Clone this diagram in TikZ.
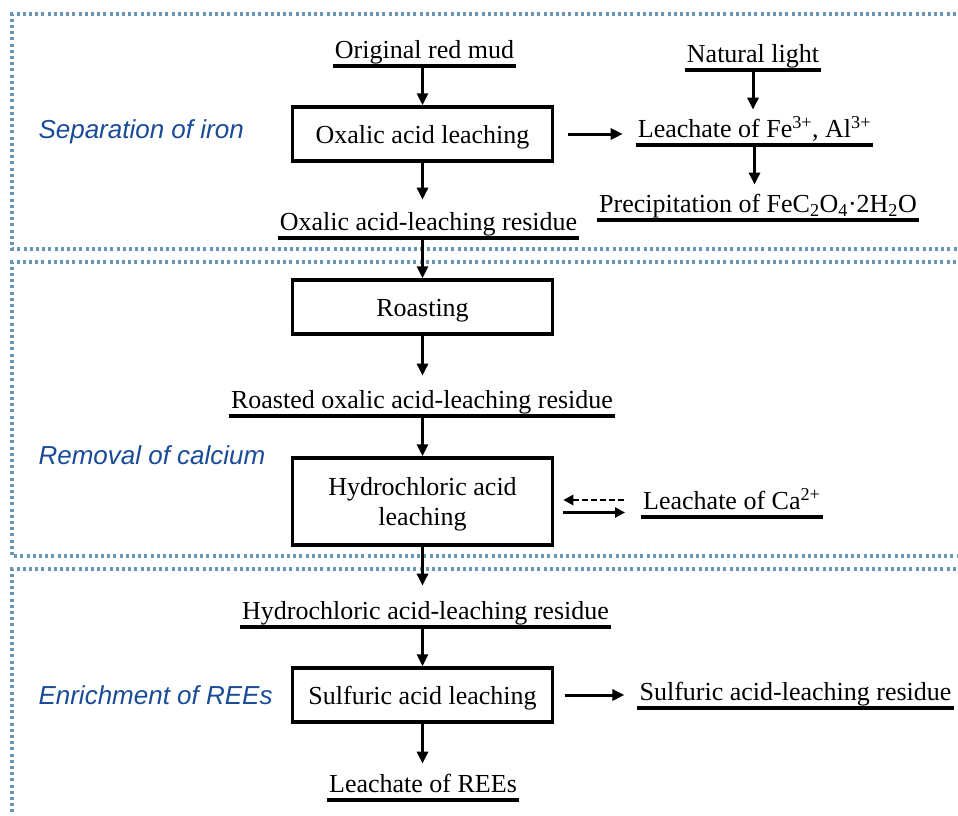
\documentclass[tikz,border=0pt]{standalone}
\usepackage{fontspec}
\setmainfont{Liberation Serif}
\newfontfamily\labfont{Liberation Sans}
\usetikzlibrary{arrows.meta}
\definecolor{framecol}{RGB}{105,150,180}
\definecolor{labcol}{RGB}{25,75,150}
\tikzset{
  frame/.style={draw=framecol, line width=3.2pt, dash pattern=on 3pt off 3.2pt},
  procbox/.style={draw, line width=3.5pt, minimum width=260pt, minimum height=54pt, inner sep=0pt, text height=19pt, text depth=1pt, align=center, font=\fontsize{26}{30}\selectfont},
  boxtext/.style={inner sep=0pt, align=center, font=\fontsize{26}{30}\selectfont},
  ultext/.style={inner xsep=2pt, inner ysep=2pt, text height=18pt, text depth=5pt, font=\fontsize{26}{30}\selectfont},
  ulline/.style={line width=3.2pt},
  arr/.style={line width=3pt, -{Triangle[length=12pt,width=11pt]}},
  thinarr/.style={line width=2.6pt, -{Triangle[length=10pt,width=10pt]}},
  sect/.style={anchor=west, text=labcol, font=\labfont\itshape\fontsize{26}{30}\selectfont},
}
\begin{document}
\begin{tikzpicture}[x=1pt,y=-1pt]
\useasboundingbox (0,0) rectangle (958,815);
% frames
\draw[frame] (962,14) -- (12,14) -- (12,249) -- (962,249);
\draw[frame] (962,262) -- (12,262) -- (12,556) -- (962,556);
\draw[frame] (962,569) -- (12,569) -- (12,820);
% section labels
\node[sect] (s1) at (35,132) {Separation of iron};
\node[sect] (s2) at (35,455) {Removal of calcium};
\node[sect] (s3) at (35,695) {Enrichment of REEs};
% boxes
\node[procbox] (ox) at (422.5,134) {Oxalic acid leaching};
\node[procbox] (ro) at (422.5,307) {Roasting};
\node[procbox, minimum height=87pt] (hc) at (422.5,501.5) {};
\node[boxtext] (hct) at ([yshift=-3pt]hc.center) {Hydrochloric acid\\leaching};
\node[procbox] (su) at (422.5,695) {Sulfuric acid leaching};
% underlined texts
\node[ultext, anchor=south] (orig) at (424.5,66) {Original red mud};
\node[ultext, anchor=south] (oxres) at (428.5,238) {Oxalic acid-leaching residue};
\node[ultext, anchor=south] (rores) at (422,416) {Roasted oxalic acid-leaching residue};
\node[ultext, anchor=south] (hcres) at (425.5,627) {Hydrochloric acid-leaching residue};
\node[ultext, anchor=south] (ree) at (423,800) {Leachate of REEs};
\node[ultext, anchor=south] (nat) at (753,70) {Natural light};
\node[ultext, anchor=south] (feal) at (754.5,145) {Leachate of Fe\textsuperscript{3+}, Al\textsuperscript{3+}};
\node[ultext, anchor=south] (pre) at (758,220) {Precipitation of FeC\textsubscript{2}O\textsubscript{4}·2H\textsubscript{2}O};
\node[ultext, anchor=south west] (ca) at (641,517) {Leachate of Ca\textsuperscript{2+}};
\node[ultext, anchor=south] (sres) at (795.5,708) {Sulfuric acid-leaching residue};
\foreach \n in {orig,oxres,rores,hcres,ree,nat,feal,pre,ca,sres}
  \draw[ulline] (\n.south west) -- (\n.south east);
% main column arrows
\draw[arr] (ox.north |- orig.south) -- (ox.north);
\draw[arr, shorten >=11pt] (ox.south) -- (ox.south |- oxres.north);
\draw[arr] (ro.north |- oxres.south) -- (ro.north);
\draw[arr, shorten >=13pt] (ro.south) -- (ro.south |- rores.north);
\draw[arr] (hc.north |- rores.south) -- (hc.north);
\draw[arr, shorten >=14pt] (hc.south) -- (hc.south |- hcres.north);
\draw[arr] (su.north |- hcres.south) -- (su.north);
\draw[arr, shorten >=9pt] (su.south) -- (su.south |- ree.north);
% right side
\draw[arr, shorten >=8pt] (nat.south) -- (nat.south |- feal.north);
\draw[arr, shorten >=8pt] (feal.south) -- (feal.south |- pre.north);
\draw[arr, shorten <=14pt, shorten >=13pt] (ox.east) -- (ox.east -| feal.south west);
\draw[arr, shorten <=11pt, shorten >=13pt] (su.east) -- (su.east -| sres.south west);
\draw[thinarr, dash pattern=on 6pt off 3pt, shorten <=17pt, shorten >=9pt] ([yshift=1.5pt]hc.east -| ca.south west) -- ([yshift=1.5pt]hc.east);
\draw[thinarr, shorten <=9pt, shorten >=16pt] ([yshift=-11pt]hc.east) -- ([yshift=-11pt]hc.east -| ca.south west);
\end{tikzpicture}
\end{document}
